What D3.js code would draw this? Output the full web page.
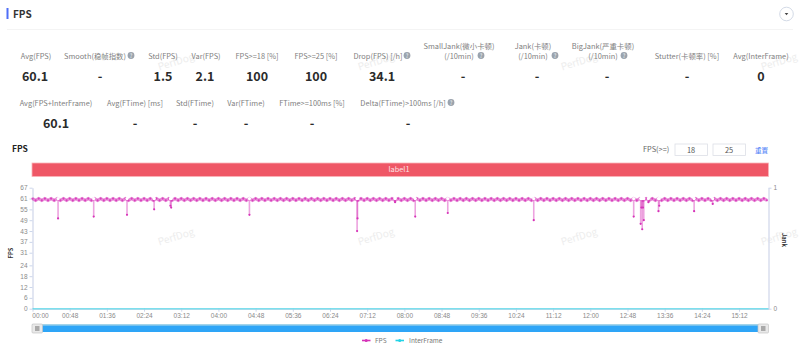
<!DOCTYPE html>
<html>
<head>
<meta charset="utf-8">
<title>FPS</title>
<script src="https://cdn.jsdelivr.net/npm/d3@7"></script>
<style>
  html, body { margin: 0; padding: 0; background: #fff; }
  svg { display: block; font-family: "Noto Sans CJK SC", "Noto Sans", sans-serif; }
  .tick text { fill: #8a8a8a; font-size: 6.5px; }
  .tick line, .axis-line { stroke: #ccd6eb; }
  .domain { stroke: #d8deee; stroke-width: 1.5px; }
</style>
</head>
<body>
<div id="chart"></div>
<script>
// stats table
var statNames = ["Avg(FPS)", "Smooth(稳帧指数)", "Std(FPS)", "Var(FPS)", "FPS>=18 [%]", "FPS>=25 [%]", "Drop(FPS) [/h]",
  "SmallJank(微小卡顿)|(/10min)", "Jank(卡顿)|(/10min)", "BigJank(严重卡顿)|(/10min)", "Stutter(卡顿率) [%]", "Avg(InterFrame)",
  "Avg(FPS+InterFrame)", "Avg(FTime) [ms]", "Std(FTime)", "Var(FTime)", "FTime>=100ms [%]", "Delta(FTime)>100ms [/h]"];
var statValues = ["60.1", "-", "1.5", "2.1", "100", "100", "34.1", "-", "-", "-", "-", "0", "60.1", "-", "-", "-", "-", "-"];

// axis ticks
var fpsTicks = [0, 6, 12, 18, 24, 31, 37, 43, 49, 55, 61, 67];
var jankTicks = [0, 1];
var timeTicks = [0, 48, 96, 144, 192, 240, 288, 336, 384, 432, 480, 528, 576, 624, 672, 720, 768, 816, 864, 912];

// fps, one sample every 4 seconds
var fpsValues = [
  61, 60, 61, 60, 61, 60, 61, 60, 61, 60, 61, 60, 61, 60, 61, 60, 61, 60, 61, 60,
  61, 60, 61, 60, 61, 60, 61, 60, 61, 60, 61, 60, 61, 60, 61, 60, 61, 60, 61, 60,
  61, 60, 61, 60, 61, 60, 61, 60, 61, 60, 61, 60, 61, 60, 61, 60, 61, 60, 61, 60,
  61, 60, 61, 60, 61, 60, 61, 60, 61, 60, 61, 60, 61, 60, 61, 60, 61, 60, 61, 60,
  61, 60, 61, 60, 61, 60, 61, 60, 61, 60, 61, 60, 61, 60, 61, 60, 61, 60, 61, 60,
  61, 60, 61, 60, 61, 60, 61, 60, 61, 60, 61, 60, 61, 60, 61, 60, 61, 60, 61, 60,
  61, 60, 61, 60, 61, 60, 61, 60, 61, 60, 61, 60, 61, 60, 61, 60, 61, 60, 61, 60,
  61, 60, 61, 60, 61, 60, 61, 60, 61, 60, 61, 60, 61, 60, 61, 60, 61, 60, 61, 60,
  61, 60, 61, 60, 61, 60, 61, 60, 61, 60, 61, 60, 61, 60, 61, 60, 61, 60, 61, 60,
  61, 60, 61, 60, 61, 60, 61, 60, 61, 60, 61, 60, 61, 60, 61, 60, 61, 60, 61, 60,
  61, 60, 61, 60, 61, 60, 61, 60, 61, 60, 61, 60, 61, 60, 61, 60, 61, 60, 61, 60,
  61, 60, 61, 60, 61, 60, 61, 60, 61, 60, 61, 60, 61, 60, 61, 60, 61, 60
];

// dips below the band
var dipTimes = [33, 79, 122, 157, 178, 179, 280, 419, 419.5, 468, 494, 536, 647, 776, 785, 786, 787, 788, 789, 795, 808, 809, 854, 878];
var dipValues = [50, 51, 52, 55, 57, 56, 52, 43, 50, 59, 51, 53, 49, 51, 47, 56, 44, 56, 49, 59, 54, 57, 54, 58];

// interframe stays at zero for the whole run
var interTimes = [0, 950];
var interValues = [0, 0];

var width = 800, height = 353;
var margin = {left: 32.5, right: 768.5, top: 187.7, bottom: 308.7};

var svg = d3.select("#chart").append("svg")
    .attr("width", width)
    .attr("height", height);

// header
svg.append("rect").attr("x", 6.5).attr("y", 8).attr("width", 2).attr("height", 11).attr("fill", "#4f6ef7");
svg.append("text").attr("x", 13).attr("y", 18).attr("font-size", 10).attr("font-weight", 700).attr("fill", "#333").text("FPS");
svg.append("line").attr("x1", 7).attr("x2", 793).attr("y1", 29.5).attr("y2", 29.5).attr("stroke", "#f4f4f4");
svg.append("circle").attr("cx", 786.5).attr("cy", 14).attr("r", 6.8).attr("fill", "#fff").attr("stroke", "#c8d1e0").attr("stroke-width", 0.8);
svg.append("path").attr("d", "M784.7 13 L788.3 13 L786.5 15.3 Z").attr("fill", "#444");

// watermarks
var wmX = [177, 377, 580, 780];
[65, 240].forEach(function(wy) {
  wmX.forEach(function(wx) {
    svg.append("text")
      .attr("transform", "translate(" + wx + "," + wy + ") rotate(-17)")
      .attr("text-anchor", "middle")
      .attr("font-size", 10)
      .attr("fill", "#ededed")
      .text("PerfDog");
  });
});

// stats, label x and value x per column
var labelX = [36, 95, 163, 206, 257, 316, 378, 459, 533, 603, 687, 761, 56, 135, 195, 246, 312, 403];
var valueX = [35, 100, 163, 205, 257, 316, 382, 463, 537, 607, 687, 761, 56, 135, 195, 246, 312, 408];
var helpX = [null, 131, null, null, null, null, 407, 481, 555, 624, null, null, null, null, null, null, null, 451];

statNames.forEach(function(name, i) {
  var row = i < 12 ? 0 : 1;
  var labelY = row == 0 ? 58.5 : 105.5;
  var valueY = row == 0 ? 81 : 128;
  var parts = name.split("|");
  parts.forEach(function(p, k) {
    svg.append("text")
      .attr("x", labelX[i])
      .attr("y", labelY - (parts.length - 1 - k) * 10)
      .attr("text-anchor", "middle")
      .attr("font-size", 7.4)
      .attr("fill", "#808080")
      .text(p);
  });
  svg.append("text")
    .attr("x", valueX[i])
    .attr("y", valueY)
    .attr("text-anchor", "middle")
    .attr("font-size", 12.5)
    .attr("font-weight", 700)
    .attr("fill", "#2b2b2b")
    .text(statValues[i]);
  if (helpX[i] != null) {
    svg.append("circle").attr("cx", helpX[i]).attr("cy", labelY - 3).attr("r", 3.4).attr("fill", "#9aa3ad");
    svg.append("text").attr("x", helpX[i]).attr("y", labelY - 0.8).attr("text-anchor", "middle")
      .attr("font-size", 5.5).attr("fill", "#fff").text("?");
  }
});

// chart title and threshold inputs
svg.append("text").attr("x", 12).attr("y", 152).attr("font-size", 8.5).attr("font-weight", 700).attr("fill", "#222").text("FPS");
svg.append("text").attr("x", 643).attr("y", 152).attr("font-size", 7.4).attr("fill", "#666").text("FPS(>=)");
[[675, "18"], [713, "25"]].forEach(function(b) {
  svg.append("rect").attr("x", b[0]).attr("y", 144).attr("width", 32.5).attr("height", 11.5)
    .attr("fill", "#fff").attr("stroke", "#dcdfe6").attr("stroke-width", 0.8);
  svg.append("text").attr("x", b[0] + 16).attr("y", 152.5).attr("text-anchor", "middle")
    .attr("font-size", 7.4).attr("fill", "#555").text(b[1]);
});
svg.append("text").attr("x", 755).attr("y", 152.5).attr("font-size", 6.6).attr("fill", "#4a7cf7").text("重置");

// label band
svg.append("rect").attr("x", 32).attr("y", 163).attr("width", 736.5).attr("height", 13.5)
  .attr("fill", "#ef5766").attr("stroke", "#fbb4b8").attr("stroke-width", 0.8);
svg.append("text").attr("x", 399).attr("y", 172).attr("text-anchor", "middle")
  .attr("font-size", 7.4).attr("fill", "#fde3e5").text("label1");

// set the ranges
var x = d3.scaleLinear().domain([0, 950]).range([margin.left, margin.right]);
var y = d3.scaleLinear().domain([0, 67]).range([margin.bottom, margin.top]);
var yJank = d3.scaleLinear().domain([0, 1]).range([margin.bottom, margin.top]);

function mmss(s) {
  return d3.format("02")(Math.floor(s / 60)) + ":" + d3.format("02")(s % 60);
}

// axes
var xAxis = svg.append("g")
    .attr("transform", "translate(0," + margin.bottom + ")")
    .call(d3.axisBottom(x).tickValues(timeTicks).tickFormat(mmss).tickSizeInner(3).tickSizeOuter(0).tickPadding(2));
xAxis.select(".domain").attr("stroke", "#cfe8ee");
// first label sits inside the plot, not centred on its tick
xAxis.select(".tick text").attr("dx", 7.5);

svg.append("g")
    .attr("transform", "translate(" + margin.left + ",0)")
    .call(d3.axisLeft(y).tickValues(fpsTicks).tickSizeInner(3).tickSizeOuter(0).tickPadding(2));

svg.append("g")
    .attr("transform", "translate(" + margin.right + ",0)")
    .call(d3.axisRight(yJank).tickValues(jankTicks).tickFormat(d3.format("d")).tickSizeInner(3).tickSizeOuter(0).tickPadding(2));

svg.append("text")
    .attr("transform", "translate(13,253) rotate(-90)")
    .attr("text-anchor", "middle").attr("font-size", 5.8).attr("font-weight", 700).attr("fill", "#333")
    .text("FPS");
svg.append("text")
    .attr("transform", "translate(782,240) rotate(90)")
    .attr("text-anchor", "middle").attr("font-size", 5.8).attr("font-weight", 700).attr("fill", "#333")
    .text("Jank");

var fpsColor = "#d633b8", interColor = "#22d3e6";

// interframe line
var interData = interTimes.map(function(t, i) { return {t: t, v: interValues[i]}; });
svg.append("path")
    .datum(interData)
    .attr("fill", "none")
    .attr("stroke", interColor)
    .attr("stroke-opacity", 0.55)
    .attr("stroke-width", 1.6)
    .attr("d", d3.line().x(function(d) { return x(d.t); }).y(function(d) { return y(d.v); }));

// fps band
var fpsData = fpsValues.map(function(v, i) { return {t: i * 4, v: v}; });
var fpsLine = d3.line()
    .x(function(d) { return x(d.t); })
    .y(function(d) { return y(d.v); });

svg.append("path")
    .datum(fpsData)
    .attr("fill", "none")
    .attr("stroke", fpsColor)
    .attr("stroke-opacity", 0.55)
    .attr("stroke-width", 3.2)
    .attr("d", fpsLine);

svg.selectAll(".band-dot")
    .data(fpsData)
    .enter().append("circle")
    .attr("class", "band-dot")
    .attr("cx", function(d) { return x(d.t); })
    .attr("cy", function(d) { return y(d.v); })
    .attr("r", 1.1)
    .attr("fill", fpsColor)
    .attr("fill-opacity", 0.85);

// dips, each one a stem down from the band with a small notch at the top
var dipData = dipTimes.map(function(t, i) { return {t: t, v: dipValues[i]}; });
svg.selectAll(".notch")
    .data(dipData)
    .enter().append("circle")
    .attr("class", "notch")
    .attr("cx", function(d) { return x(d.t); })
    .attr("cy", y(61))
    .attr("r", 1.6)
    .attr("fill", "#fff");
dipData.forEach(function(d) {
  svg.append("path")
      .datum([{t: d.t, v: 60}, d])
      .attr("fill", "none")
      .attr("stroke", fpsColor)
      .attr("stroke-opacity", 0.45)
      .attr("stroke-width", 1.6)
      .attr("d", fpsLine);
});
svg.selectAll(".dip-dot")
    .data(dipData)
    .enter().append("circle")
    .attr("class", "dip-dot")
    .attr("cx", function(d) { return x(d.t); })
    .attr("cy", function(d) { return y(d.v); })
    .attr("r", 1.1)
    .attr("fill", fpsColor);

// zoom slider
svg.append("rect").attr("x", 32).attr("y", 324).attr("width", 736).attr("height", 8).attr("fill", "#2ea5f7");
svg.append("rect").attr("x", 32).attr("y", 324).attr("width", 736).attr("height", 1.6).attr("fill", "#a3d4ea");
[32, 758].forEach(function(hx) {
  svg.append("rect").attr("x", hx).attr("y", 324).attr("width", 10.5).attr("height", 9)
    .attr("rx", 1).attr("fill", "#e9e9e9").attr("stroke", "#c4c4c4").attr("stroke-width", 0.7);
  svg.append("rect").attr("x", hx + 3).attr("y", 326).attr("width", 4.5).attr("height", 5).attr("fill", "#a9a9a9");
});

// legend
[[362, fpsColor, "FPS", 375], [395.5, interColor, "InterFrame", 409]].forEach(function(l) {
  svg.append("line").attr("x1", l[0]).attr("x2", l[0] + 8.5).attr("y1", 340.5).attr("y2", 340.5)
    .attr("stroke", l[1]).attr("stroke-width", 1.6);
  svg.append("circle").attr("cx", l[0] + 4.2).attr("cy", 340.5).attr("r", 1.5).attr("fill", l[1]);
  svg.append("text").attr("x", l[3]).attr("y", 343).attr("font-size", 6.5).attr("fill", "#777").text(l[2]);
});
</script>
</body>
</html>
